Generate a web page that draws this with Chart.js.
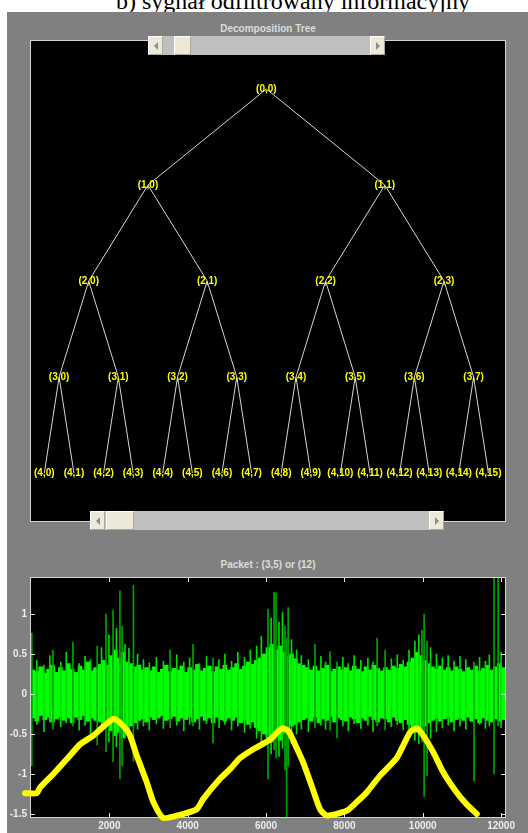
<!DOCTYPE html>
<html lang="pl">

<head>
  <meta charset="UTF-8">
  <title>Decomposition Tree / Packet (3,5)</title>
  <script src="https://cdn.jsdelivr.net/npm/chart.js"></script>
  <style>
    body { margin: 0; width: 528px; height: 833px; overflow: hidden; background: #fff; position: relative; }
    #caption { position: absolute; left: 116px; top: -11px; font: 24px/24px "Liberation Serif", "Times New Roman", serif; color: #000; white-space: nowrap; }
    #panel { position: absolute; left: 7px; top: 12px; width: 521px; height: 821px; background: #808080; }
    .axtitle { position: absolute; left: 31px; width: 474px; text-align: center; font: bold 10px "Liberation Sans", Arial, sans-serif; color: #dcdcdc; }
    .box { position: absolute; left: 31px; width: 474px; background: #000; box-shadow: 0 0 0 1px #d4d4d4; }
    .sb { position: absolute; height: 19px; background: #c0c0c0; }
    .sb div { position: absolute; top: 0; height: 19px; box-sizing: border-box; background: #ece9d8; border: 1px solid; border-color: #fff #aca899 #aca899 #fff; }
    .sb .l { left: 0; width: 15px; }
    .sb .r { right: 0; width: 15px; }
    .sb .l::after, .sb .r::after { content: ""; position: absolute; top: 5px; width: 0; height: 0; border: 4px solid transparent; }
    .sb .l::after { left: 1px; border-right-color: #8c8c8c; }
    .sb .r::after { left: 5px; border-left-color: #8c8c8c; }
    #treeCanvas { position: absolute; left: 0; top: 0; }
    #sigWrap { position: absolute; left: 7px; top: 560px; width: 521px; height: 273px; }
  </style>
</head>

<body>
  <div id="caption">b) sygnał odfiltrowany informacyjny</div>
  <div id="panel"></div>
  <div class="axtitle" style="top:23px">Decomposition Tree</div>
  <div class="box" style="top:41px;height:480px"><canvas id="treeCanvas" width="474" height="480"></canvas></div>
  <div class="sb" style="left:148px;top:36px;width:237px">
    <div class="l"></div><div style="left:26px;width:17px"></div><div class="r"></div>
  </div>
  <div class="sb" style="left:90px;top:511px;width:354px">
    <div class="l"></div><div style="left:16px;width:28px"></div><div class="r"></div>
  </div>
  <div class="axtitle" style="top:559px">Packet : (3,5) or (12)</div>
  <div class="box" style="top:578px;height:239px"></div>
  <div id="sigWrap"><canvas id="sigCanvas" width="521" height="273"></canvas></div>

  <script>
    // tree: full binary packet tree, depth 4
    const treeDepth = 4;

    // signal axes
    const xTicks = [2000, 4000, 6000, 8000, 10000, 12000];
    const yTicks = [-1.5, -1, -0.5, 0, 0.5, 1];
    const xMax = 12100;

    // dense green band, one value per 100 samples
    const binSize = 100;
    const bandHi = [
      0.30, 0.28, 0.34, 0.26, 0.31, 0.36, 0.27, 0.33, 0.29, 0.38,
      0.31, 0.27, 0.35, 0.30, 0.40, 0.29, 0.33, 0.37, 0.42, 0.36,
      0.48, 0.55, 0.45, 0.52, 0.40, 0.38, 0.34, 0.36, 0.30, 0.33,
      0.29, 0.34, 0.27, 0.31, 0.36, 0.28, 0.32, 0.30, 0.35, 0.27,
      0.33, 0.30, 0.37, 0.29, 0.32, 0.35, 0.28, 0.34, 0.31, 0.36,
      0.30, 0.33, 0.38, 0.31, 0.35, 0.40, 0.37, 0.42, 0.45, 0.50,
      0.58, 0.62, 0.55, 0.60, 0.52, 0.47, 0.50, 0.44, 0.38, 0.36,
      0.33, 0.30, 0.35, 0.29, 0.32, 0.36, 0.28, 0.31, 0.34, 0.30,
      0.33, 0.29, 0.35, 0.31, 0.28, 0.34, 0.30, 0.36, 0.32, 0.29,
      0.33, 0.30, 0.35, 0.32, 0.37, 0.34, 0.40, 0.45, 0.52, 0.48,
      0.42, 0.38, 0.34, 0.31, 0.35, 0.30, 0.33, 0.29, 0.34, 0.31,
      0.28, 0.33, 0.30, 0.35, 0.29, 0.32, 0.36, 0.30, 0.34, 0.38, 0.33
    ];
    const bandLo = [
      -0.30, -0.34, -0.27, -0.32, -0.29, -0.35, -0.31, -0.28, -0.33, -0.30,
      -0.36, -0.29, -0.32, -0.27, -0.34, -0.30, -0.33, -0.35, -0.38, -0.40,
      -0.46, -0.52, -0.48, -0.55, -0.45, -0.40, -0.36, -0.33, -0.31, -0.35,
      -0.29, -0.32, -0.30, -0.27, -0.33, -0.31, -0.28, -0.34, -0.30, -0.32,
      -0.29, -0.35, -0.31, -0.28, -0.33, -0.30, -0.36, -0.29, -0.32, -0.34,
      -0.30, -0.33, -0.29, -0.36, -0.32, -0.38, -0.35, -0.42, -0.46, -0.50,
      -0.55, -0.60, -0.52, -0.58, -0.50, -0.45, -0.40, -0.38, -0.35, -0.32,
      -0.30, -0.34, -0.29, -0.36, -0.31, -0.33, -0.28, -0.35, -0.30, -0.32,
      -0.34, -0.29, -0.31, -0.36, -0.30, -0.33, -0.28, -0.32, -0.35, -0.30,
      -0.31, -0.35, -0.29, -0.33, -0.36, -0.32, -0.38, -0.42, -0.48, -0.45,
      -0.40, -0.36, -0.33, -0.30, -0.34, -0.31, -0.29, -0.35, -0.32, -0.30,
      -0.33, -0.29, -0.34, -0.31, -0.36, -0.30, -0.33, -0.35, -0.31, -0.34, -0.32
    ];

    // tall isolated spikes
    const spikeX = [20, 560, 1070, 1690, 1915, 2095, 2270, 2325, 2615, 3550, 4135, 4645, 6050, 6205, 6255, 6485, 6525, 6565, 7250, 7635, 7810, 8835, 9040, 9980, 10035, 10110, 11310, 11820, 11925];
    const spikeLo = [-0.90, -0.44, -0.40, -0.64, -0.72, -0.85, -1.06, -0.90, -0.84, -0.42, -0.40, -0.61, -1.06, -0.70, -0.80, -0.95, -1.56, -0.90, -0.42, -0.45, -0.55, -0.40, -0.45, -0.60, -1.28, -1.02, -1.09, -1.00, -0.40];
    const spikeHi = [0.76, 0.55, 0.65, 0.60, 1.00, 1.05, 1.29, 0.85, 1.36, 0.55, 0.62, 0.45, 1.06, 1.27, 1.26, 0.85, 0.70, 1.08, 0.62, 0.53, 0.40, 0.70, 0.55, 0.80, 1.00, 0.66, 0.40, 1.45, 1.45];

    // smaller spikes along the band edge
    const jagX = [150, 330, 480, 760, 900, 1230, 1380, 1520, 1800, 1990, 2180, 2400, 2500, 2720, 2870, 3020, 3200, 3380, 3720, 3900, 4050, 4300, 4480, 4800, 4950, 5120, 5280, 5450, 5600, 5760, 5880, 6130, 6330, 6420, 6650, 6780, 6900, 7080, 7400, 7520, 7960, 8100, 8250, 8420, 8600, 8730, 9200, 9350, 9500, 9650, 9800, 9900, 10200, 10350, 10500, 10650, 10800, 10950, 11100, 11450, 11600, 11700, 12000];
    const jagLo = [-0.38, -0.47, -0.35, -0.41, -0.36, -0.45, -0.39, -0.50, -0.47, -0.60, -0.66, -0.55, -0.48, -0.44, -0.40, -0.45, -0.37, -0.43, -0.39, -0.46, -0.38, -0.44, -0.37, -0.42, -0.38, -0.45, -0.40, -0.48, -0.43, -0.55, -0.62, -0.75, -0.78, -0.68, -0.62, -0.50, -0.44, -0.47, -0.39, -0.44, -0.40, -0.46, -0.37, -0.43, -0.39, -0.47, -0.41, -0.38, -0.45, -0.50, -0.58, -0.62, -0.55, -0.47, -0.42, -0.39, -0.46, -0.40, -0.44, -0.38, -0.43, -0.40, -0.42];
    const jagHi = [0.42, 0.36, 0.48, 0.40, 0.52, 0.38, 0.47, 0.43, 0.58, 0.74, 0.82, 0.62, 0.57, 0.50, 0.43, 0.39, 0.46, 0.41, 0.49, 0.40, 0.45, 0.38, 0.47, 0.43, 0.50, 0.41, 0.52, 0.46, 0.55, 0.60, 0.72, 0.95, 0.90, 1.02, 0.68, 0.55, 0.48, 0.43, 0.47, 0.40, 0.46, 0.38, 0.48, 0.42, 0.45, 0.40, 0.44, 0.49, 0.42, 0.55, 0.66, 0.74, 0.58, 0.50, 0.45, 0.48, 0.41, 0.47, 0.43, 0.46, 0.41, 0.49, 0.52];

    // hand-drawn yellow curve
    const yellowX = [-150, 145, 230, 570, 996, 1251, 1591, 2102, 2357, 2527, 2698, 2953, 3123, 3378, 3804, 4230, 4399, 4825, 5080, 5336, 5675, 6102, 6400, 6570, 6740, 6952, 7166, 7378, 7549, 8059, 8315, 8570, 8910, 9336, 9676, 9847, 10015, 10271, 10526, 10868, 11123, 11379];
    const yellowY = [-1.24, -1.24, -1.17, -1.00, -0.77, -0.63, -0.52, -0.31, -0.40, -0.52, -0.77, -1.10, -1.35, -1.55, -1.51, -1.44, -1.31, -1.06, -0.94, -0.80, -0.69, -0.57, -0.43, -0.46, -0.63, -0.86, -1.15, -1.44, -1.52, -1.46, -1.35, -1.23, -1.02, -0.80, -0.48, -0.43, -0.52, -0.73, -0.98, -1.23, -1.38, -1.50];

    const labelFont = 'bold 10px "Liberation Sans", Arial, sans-serif';

    // ---------- decomposition tree ----------
    const nodes = [];
    for (let d = 0; d <= treeDepth; d++) {
      const span = Math.pow(2, treeDepth - d);
      for (let i = 0; i < Math.pow(2, d); i++) {
        nodes.push({ d, i, x: (i + 0.5) * span - 0.5, y: d, label: '(' + d + ',' + i + ')' });
      }
    }
    const nodeAt = (d, i) => nodes.find(n => n.d == d && n.i == i);

    const edgeSets = nodes.filter(n => n.d < treeDepth).map(n => {
      const a = nodeAt(n.d + 1, 2 * n.i), b = nodeAt(n.d + 1, 2 * n.i + 1);
      return {
        data: [{ x: a.x, y: a.y }, { x: n.x, y: n.y }, { x: b.x, y: b.y }],
        showLine: true, borderColor: '#d6d6d6', borderWidth: 1, pointRadius: 0, fill: false,
      };
    });

    const nodeLabels = {
      id: 'nodeLabels',
      afterDatasetsDraw(chart) {
        const { ctx, scales } = chart;
        ctx.save();
        ctx.font = labelFont;
        ctx.fillStyle = '#ffff00';
        ctx.textAlign = 'center';
        ctx.textBaseline = 'middle';
        for (const n of nodes) {
          ctx.fillText(n.label, scales.x.getPixelForValue(n.x), scales.y.getPixelForValue(n.y));
        }
        ctx.restore();
      }
    };

    new Chart(document.getElementById('treeCanvas'), {
      type: 'scatter',
      data: { datasets: edgeSets },
      options: {
        responsive: false, animation: false, devicePixelRatio: 1,
        layout: { padding: 0 },
        plugins: { legend: { display: false }, tooltip: { enabled: false } },
        scales: {
          x: { type: 'linear', min: -0.45, max: 15.56, display: false },
          y: { type: 'linear', min: -0.5, max: 4.5, reverse: true, display: false },
        }
      },
      plugins: [nodeLabels]
    });

    // ---------- packet signal ----------
    const band = bandHi.map((h, k) => ({ x: k * binSize + binSize / 2, y: [bandLo[k], h] }));
    const spikes = spikeX.map((x, k) => ({ x, y: [spikeLo[k], spikeHi[k]] }));
    const jags = jagX.map((x, k) => ({ x, y: [jagLo[k], jagHi[k]] }));
    const yellow = yellowX.map((x, k) => ({ x, y: yellowY[k] }));

    // MATLAB style box with inward ticks on all four sides
    const boxTicks = {
      id: 'boxTicks',
      afterDatasetsDraw(chart) {
        const { ctx, chartArea: a, scales } = chart;
        ctx.save();
        ctx.strokeStyle = '#e6e6e6';
        ctx.lineWidth = 1;
        ctx.beginPath();
        for (const v of xTicks) {
          const px = Math.round(scales.x.getPixelForValue(v)) + 0.5;
          ctx.moveTo(px, a.bottom); ctx.lineTo(px, a.bottom - 4);
          ctx.moveTo(px, a.top); ctx.lineTo(px, a.top + 4);
        }
        for (const v of yTicks) {
          const py = Math.round(scales.y.getPixelForValue(v)) + 0.5;
          ctx.moveTo(a.left, py); ctx.lineTo(a.left + 4, py);
          ctx.moveTo(a.right, py); ctx.lineTo(a.right - 4, py);
        }
        ctx.stroke();
        ctx.restore();
      }
    };

    const tickStyle = { font: { family: '"Liberation Sans", Arial, sans-serif', size: 10, weight: 'bold' }, color: '#ececec' };

    new Chart(document.getElementById('sigCanvas'), {
      type: 'bar',
      data: {
        datasets: [
          { type: 'line', data: yellow, borderColor: '#ffff00', borderWidth: 6, pointRadius: 0, tension: 0.2,
            borderCapStyle: 'round', borderJoinStyle: 'round', clip: false, order: 0 },
          { data: spikes, backgroundColor: '#00a400', barThickness: 1, order: 1 },
          { data: jags, backgroundColor: '#00dc00', barThickness: 1, order: 2 },
          { data: band, backgroundColor: '#00ff00', barThickness: 4, order: 3 },
        ]
      },
      options: {
        responsive: false, animation: false, devicePixelRatio: 1,
        layout: { padding: { left: 0, top: 18, right: 23, bottom: 0 } },
        plugins: { legend: { display: false }, tooltip: { enabled: false } },
        scales: {
          x: {
            type: 'linear', min: 0, max: xMax, offset: false, stacked: true,
            grid: { display: false, drawTicks: false }, border: { display: false },
            afterBuildTicks: s => { s.ticks = xTicks.map(v => ({ value: v })); },
            afterFit: s => { s.height = 16; },
            ticks: { ...tickStyle, padding: 3, maxRotation: 0, autoSkip: false, callback: v => String(v) },
          },
          y: {
            type: 'linear', min: -1.5375, max: 1.45, stacked: false,
            grid: { display: false, drawTicks: false }, border: { display: false },
            afterBuildTicks: s => { s.ticks = yTicks.map(v => ({ value: v })); },
            afterFit: s => { s.width = 24; },
            ticks: { ...tickStyle, padding: 4, callback: v => String(v) },
          }
        }
      },
      plugins: [boxTicks]
    });
  </script>
</body>

</html>
